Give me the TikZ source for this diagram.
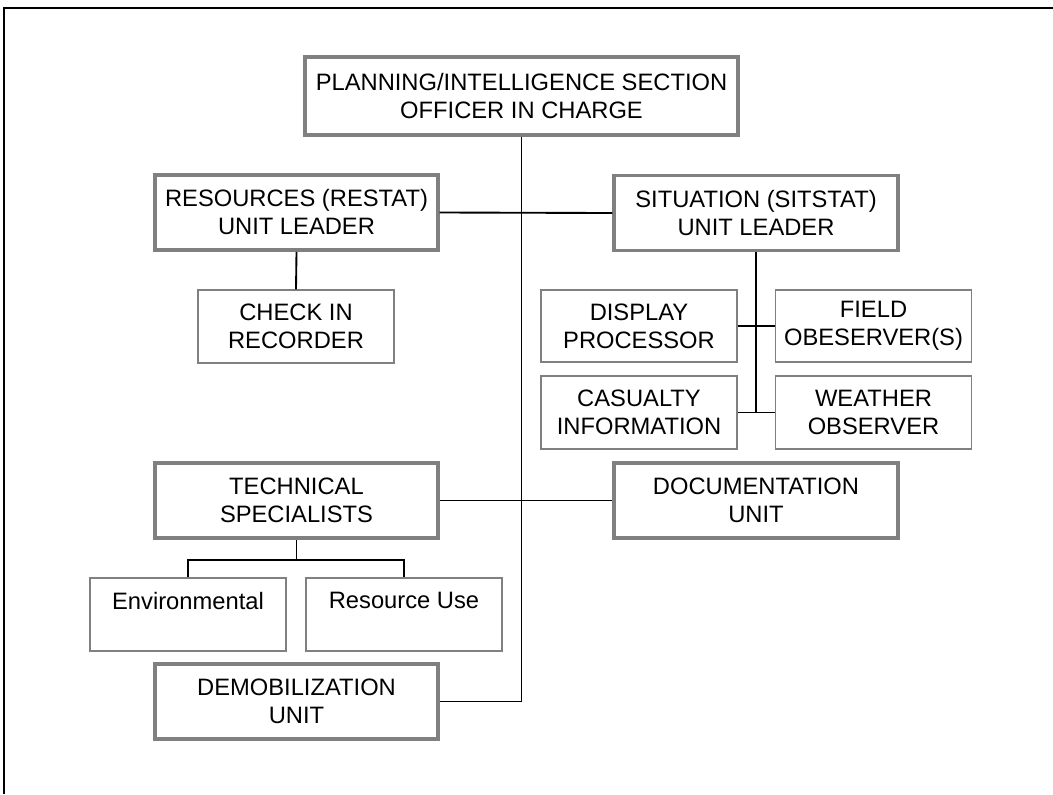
\documentclass[tikz,border=0pt]{standalone}
\usepackage{fontspec}
\setmainfont{Liberation Sans}
\definecolor{boxgray}{RGB}{128,128,128}

\begin{document}
\begin{tikzpicture}[x=0.75pt,y=-0.75pt,
    every node/.style={align=center,font=\fontsize{17.8}{21}\selectfont,inner sep=0pt},
    majorbox/.style={draw=boxgray,line width=2.6pt,minimum width=#1*0.75pt,minimum height=56.5pt},
    majorbox/.default=283,
    minorbox/.style={draw=boxgray,line width=1.3pt,minimum width=147pt,minimum height=54.5pt},
    link/.style={draw=black,line width=1.4pt}]
        \useasboundingbox (0,0) rectangle (1053,794);
        \draw[line width=2pt] (4,794)--(4,8)--(1053,8);
        \node[majorbox=433,minimum height=58.5pt] (plan) at (521.5,96) {PLANNING/INTELLIGENCE SECTION\\OFFICER IN CHARGE};
        \node[majorbox] (restat) at (296.5,212.5) {RESOURCES (RESTAT)\\UNIT LEADER};
        \node[majorbox=284] (sitstat) at (756,213) {SITUATION (SITSTAT)\\UNIT LEADER};
        \node[minorbox] (checkin) at (296,326.5) {CHECK IN\\RECORDER};
        \node[minorbox] (display) at (639,326) {DISPLAY\\PROCESSOR};
        \node[minorbox] (field) at (873.5,326) {FIELD\\OBESERVER(S)};
        \node[minorbox] (casualty) at (639,412.5) {CASUALTY\\INFORMATION};
        \node[minorbox] (weather) at (873.5,412.5) {WEATHER\\OBSERVER};
        \node[majorbox] (tech) at (296.5,500.5) {TECHNICAL\\SPECIALISTS};
        \node[majorbox=284] (docu) at (756,500.5) {DOCUMENTATION\\UNIT};
        \node[minorbox] (env) at (188,614.5) {Environmental\\~};
        \node[minorbox] (resuse) at (404,614.5) {Resource Use\\~};
        \node[majorbox] (demob) at (296.5,701.5) {DEMOBILIZATION\\UNIT};
        \draw[link] (plan.south)--(plan.south |- demob.east)--(demob.east);
        \draw[link] (restat.east)--(sitstat.west);
        \draw[link] (tech.east)--(docu.west);
        \draw[link] (restat.south)--(checkin.north);
        \draw[link] (sitstat.south)--(sitstat.south |- casualty.east);
        \draw[link] (display.east)--(field.west);
        \draw[link] (casualty.east)--(weather.west);
        \draw[link] (tech.south)--++(0,20) coordinate (split);
        \draw[link] (env.north)|-(split)-|(resuse.north);
\end{tikzpicture}
\end{document}
